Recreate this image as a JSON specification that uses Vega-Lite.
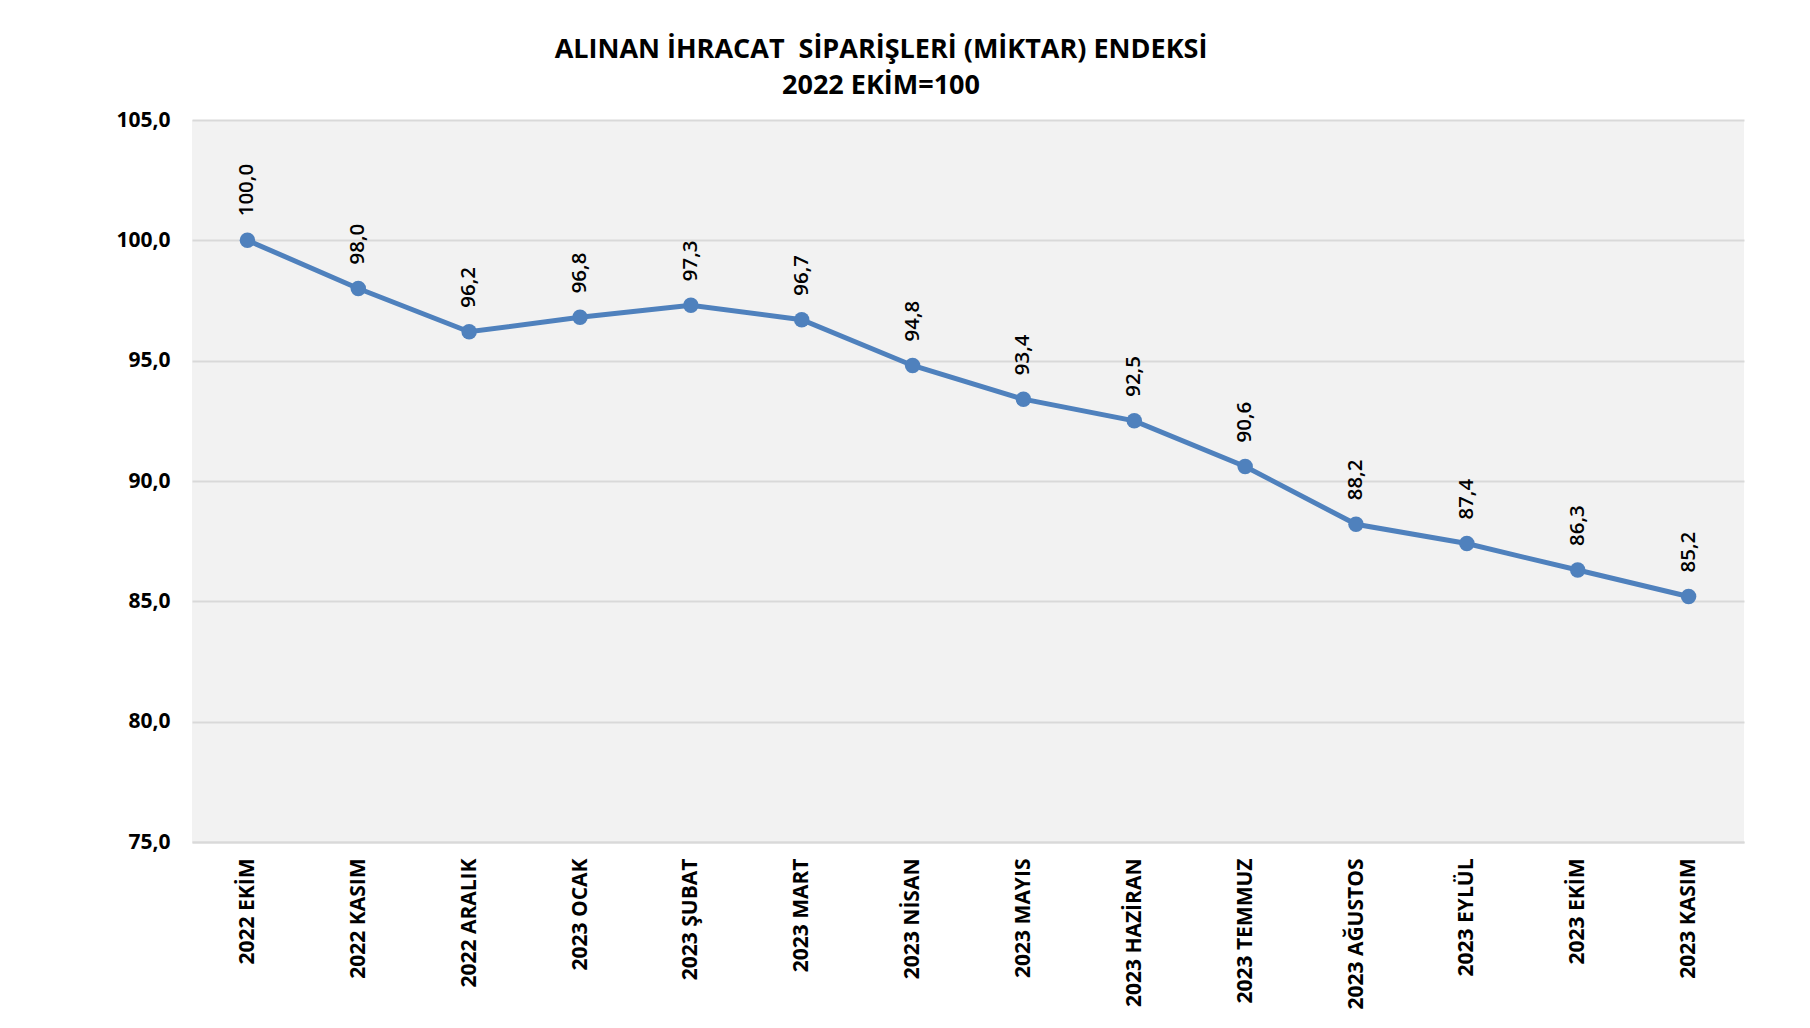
{
  "$schema": "https://vega.github.io/schema/vega-lite/v6.json",
  "width": 1552,
  "height": 722,
  "autosize": {"type": "none"},
  "padding": {"left": 192, "top": 120, "right": 66, "bottom": 186},
  "background": "white",
  "config": {
    "locale": {"number": {"decimal": ",", "thousands": ".", "grouping": [3], "currency": ["", " ₺"]}},
    "font": "Open Sans",
    "view": {"fill": "#F2F2F2", "stroke": null}
  },
  "title": {
    "text": ["ALINAN İHRACAT \u00a0SİPARİŞLERİ (MİKTAR) ENDEKSİ", "2022 EKİM=100"],
    "anchor": "middle",
    "frame": "group",
    "dx": -87,
    "offset": 9,
    "fontSize": 27,
    "fontWeight": "bold",
    "lineHeight": 36,
    "color": "#000000",
    "font": "Open Sans"
  },
  "data": {
    "values": [
      {"ay": "2022 EKİM", "endeks": 100.0},
      {"ay": "2022 KASIM", "endeks": 98.0},
      {"ay": "2022 ARALIK", "endeks": 96.2},
      {"ay": "2023 OCAK", "endeks": 96.8},
      {"ay": "2023 ŞUBAT", "endeks": 97.3},
      {"ay": "2023 MART", "endeks": 96.7},
      {"ay": "2023 NİSAN", "endeks": 94.8},
      {"ay": "2023 MAYIS", "endeks": 93.4},
      {"ay": "2023 HAZİRAN", "endeks": 92.5},
      {"ay": "2023 TEMMUZ", "endeks": 90.6},
      {"ay": "2023 AĞUSTOS", "endeks": 88.2},
      {"ay": "2023 EYLÜL", "endeks": 87.4},
      {"ay": "2023 EKİM", "endeks": 86.3},
      {"ay": "2023 KASIM", "endeks": 85.2}
    ]
  },
  "encoding": {
    "x": {
      "field": "ay",
      "type": "nominal",
      "sort": null,
      "scale": {"type": "point", "padding": 0.5},
      "axis": {
        "title": null,
        "labelAngle": -90,
        "labelAlign": "right",
        "labelBaseline": "middle",
        "labelFontSize": 21,
        "labelFontWeight": "bold",
        "labelColor": "#000000",
        "labelPadding": 16,
        "ticks": false,
        "domain": true,
        "domainColor": "#D9D9D9",
        "domainWidth": 2,
        "grid": false
      }
    },
    "y": {
      "field": "endeks",
      "type": "quantitative",
      "scale": {"domain": [75, 105], "zero": false, "nice": false},
      "axis": {
        "title": null,
        "values": [75, 80, 85, 90, 95, 100, 105],
        "format": ".1f",
        "labelFontSize": 21,
        "labelFontWeight": "bold",
        "labelColor": "#000000",
        "labelPadding": 22,
        "ticks": false,
        "domain": false,
        "grid": true,
        "gridColor": "#D9D9D9",
        "gridWidth": 2
      }
    }
  },
  "layer": [
    {
      "mark": {"type": "line", "color": "#4F81BD", "strokeWidth": 5}
    },
    {
      "mark": {"type": "point", "filled": true, "size": 240, "color": "#4F81BD", "opacity": 1}
    },
    {
      "mark": {"type": "text", "angle": -90, "align": "left", "baseline": "middle", "dx": 24, "fontSize": 20.5, "fontWeight": 600, "color": "#000000", "font": "Open Sans"},
      "encoding": {"text": {"field": "endeks", "type": "quantitative", "format": ".1f"}}
    }
  ]
}
